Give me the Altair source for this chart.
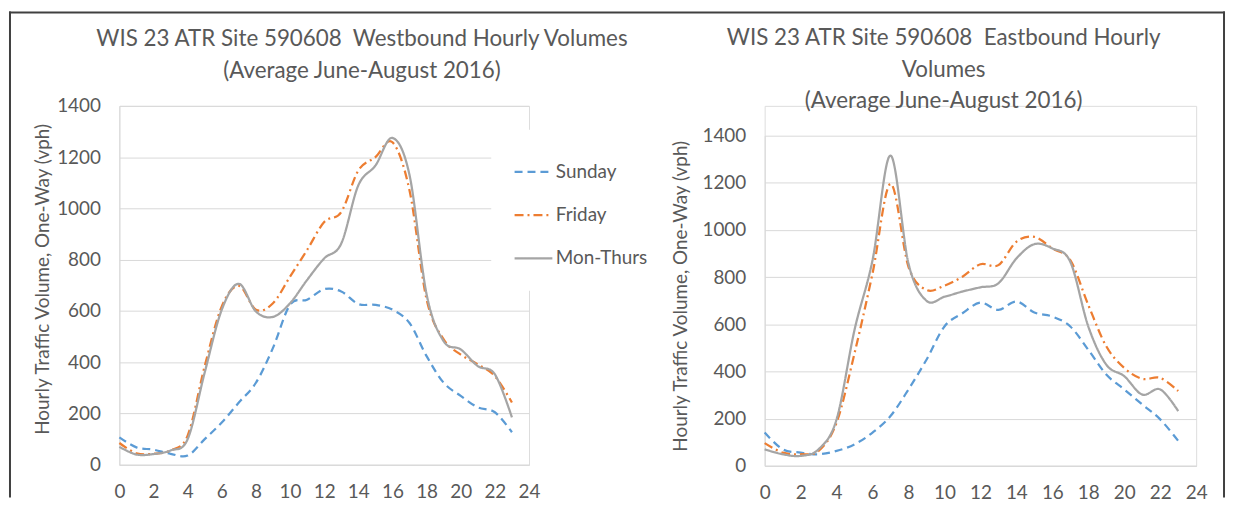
import altair as alt
import pandas as pd

hours = list(range(24))
series = ["Sunday", "Friday", "Mon-Thurs"]

west_sunday = [107, 68, 59, 43, 36, 100, 165, 243, 320, 456, 624, 644, 685, 676, 627, 624, 605, 553, 424, 320, 269, 224, 205, 127]
west_friday = [85, 45, 43, 56, 114, 385, 618, 698, 605, 630, 734, 838, 947, 986, 1148, 1200, 1258, 1070, 645, 489, 430, 392, 346, 243]
west_monthu = [70, 40, 42, 56, 100, 360, 605, 706, 598, 577, 630, 721, 805, 863, 1090, 1167, 1275, 1130, 665, 482, 450, 385, 353, 185]

east_sunday = [141, 70, 56, 49, 63, 91, 141, 211, 324, 450, 591, 647, 692, 661, 697, 650, 633, 591, 492, 387, 324, 260, 197, 106]
east_friday = [96, 56, 49, 63, 183, 478, 816, 1196, 844, 746, 764, 802, 855, 851, 950, 971, 922, 872, 682, 507, 415, 369, 373, 317]
east_monthu = [70, 49, 42, 70, 197, 577, 872, 1316, 858, 700, 717, 739, 757, 774, 879, 940, 922, 865, 591, 429, 380, 302, 324, 232]

x_ticks = list(range(0, 25, 2))
y_ticks = list(range(0, 1401, 200))

west_title = ["WIS 23 ATR Site 590608\u00a0 Westbound Hourly Volumes", "(Average June-August 2016)"]
east_title = ["WIS 23 ATR Site 590608\u00a0 Eastbound Hourly", "Volumes", "(Average June-August 2016)"]
y_title = "Hourly Traffic Volume, One-Way (vph)"

FONT = "Lato"
TXT = "#595959"
GRID = "#D9D9D9"
COLORS = ["#5B9BD5", "#ED7D31", "#A5A5A5"]
DASHES = [[8, 5], [9, 4, 2, 4], [1, 0]]
FS = 19


def make_df(s, f, m):
    rows = []
    for name, vals in zip(series, [s, f, m]):
        for h, v in zip(hours, vals):
            rows.append({"hour": h, "volume": v, "series": name})
    return pd.DataFrame(rows)


def panel(df, title, width, height, yrange, title_dx, title_dy, ytx, yty, show_legend):
    if show_legend:
        leg = alt.Legend(
            title=None, orient="none", legendX=374, legendY=24,
            symbolType="stroke", symbolSize=1444, symbolStrokeWidth=2.25,
            labelFontSize=FS, labelColor=TXT, labelFont=FONT, labelOffset=2,
            fillColor="white", padding=22, rowPadding=12.5,
        )
        leg2 = leg
    else:
        leg = None
        leg2 = None
    x = alt.X(
        "hour:Q",
        scale=alt.Scale(domain=[0, 24], nice=False),
        axis=alt.Axis(
            values=x_ticks, title=None, grid=False, ticks=False, format="d",
            labelFlush=False, labelOverlap=False,
            labelFontSize=FS, labelColor=TXT, labelFont=FONT, labelPadding=18,
            domainColor=GRID, domainWidth=1,
        ),
    )
    y = alt.Y(
        "volume:Q",
        scale=alt.Scale(domain=[0, 1400], nice=False, range=yrange),
        axis=alt.Axis(
            values=y_ticks, title=y_title, grid=True, gridColor=GRID, ticks=False, format="d",
            labelFlush=False,
            labelFontSize=FS, labelColor=TXT, labelFont=FONT, labelPadding=19,
            domainColor=GRID, domainWidth=1,
            titleFontSize=FS, titleColor=TXT, titleFont=FONT, titleFontWeight="normal",
            titleX=ytx, titleY=yty, titleAngle=270, titleAlign="center", titleBaseline="middle",
        ),
    )
    lines = alt.Chart(df).mark_line(interpolate="cardinal", strokeWidth=2.25).encode(
        x=x,
        y=y,
        color=alt.Color("series:N", scale=alt.Scale(domain=series, range=COLORS), sort=series, legend=leg),
        strokeDash=alt.StrokeDash("series:N", scale=alt.Scale(domain=series, range=DASHES), sort=series, legend=leg2),
    )
    return lines.properties(
        width=width, height=height,
        title=alt.TitleParams(
            text=title, fontSize=22.5, font=FONT, color=TXT, fontWeight="normal",
            anchor="middle", dx=title_dx, dy=title_dy, offset=24, lineHeight=32,
        ),
    )


west = panel(make_df(west_sunday, west_friday, west_monthu), west_title, 412, 361, [361, 0], 38, 96, -77, 174, True)
east = panel(make_df(east_sunday, east_friday, east_monthu), east_title, 434, 362, [362, 30], -37, 31, -85, 191, False)

frame_data = alt.Data(values=[{"k": 1}])
frame_base = alt.Chart(frame_data).mark_rule(color="#404040", strokeWidth=2, strokeCap="square")
frame_top = frame_base.encode(x=alt.value(-110), x2=alt.value(1111), y=alt.value(-94))
frame_left = frame_base.encode(x=alt.value(-110), y=alt.value(-94), y2=alt.value(393))
frame_right = frame_base.encode(x=alt.value(1111), y=alt.value(-94), y2=alt.value(393))

west_layer = alt.layer(west, frame_top, frame_left, frame_right)

chart = (
    alt.hconcat(west_layer, east, spacing=237, bounds="flush")
    .resolve_scale(color="independent", strokeDash="independent")
    .properties(padding={"left": 0, "top": 1, "right": 0, "bottom": 0})
    .configure_view(stroke=None)
    .configure(background="white")
)

chart.save("out.html", embed_options={"renderer": "svg", "actions": False})
